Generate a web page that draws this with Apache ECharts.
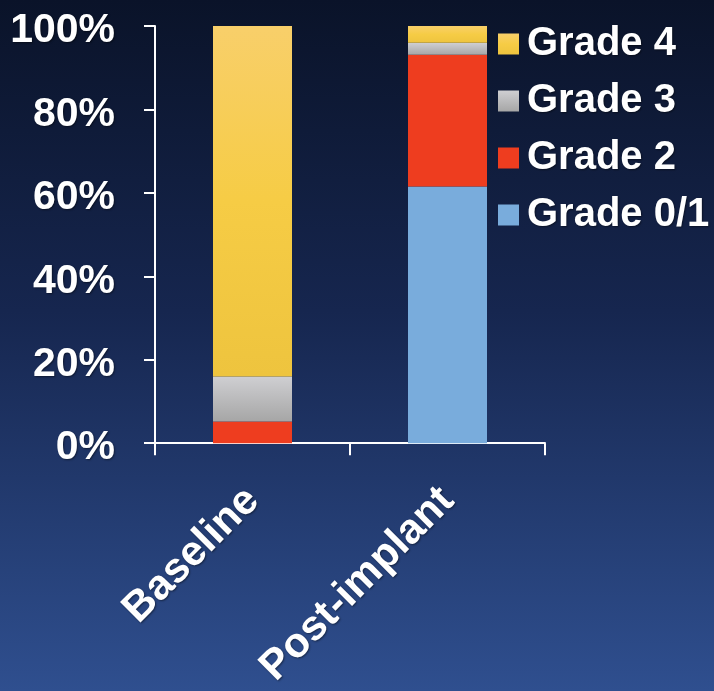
<!DOCTYPE html>
<html>
<head>
<meta charset="utf-8">
<style>
  html, body { margin: 0; padding: 0; background: #0c1631; }
  #chart { width: 714px; height: 691px; }
</style>
<script src="https://cdn.jsdelivr.net/npm/echarts@6/dist/echarts.min.js"></script>
</head>
<body>
<div id="chart"></div>
<script>
// Share of patients by grade, before and after implant (stacked to 100%)
const categories = ['Baseline', 'Post-implant'];
const grade01 = [0, 61.5];
const grade2 = [5.2, 31.6];
const grade3 = [10.8, 2.9];
const grade4 = [84, 4];
const yTicks = [0, 20, 40, 60, 80, 100];

const FONT = '"Liberation Sans", Arial, sans-serif';
const G = echarts.graphic.LinearGradient;
const shadow = { textShadowColor: 'rgba(0,0,0,0.45)', textShadowBlur: 2, textShadowOffsetX: 1, textShadowOffsetY: 1 };

const chart = echarts.init(document.getElementById('chart'), null, { renderer: 'canvas' });

function bar(name, data, color) {
  return {
    name: name,
    type: 'bar',
    stack: 'total',
    data: data,
    barWidth: 79,
    itemStyle: { color: color },
    emphasis: { disabled: true }
  };
}

chart.setOption({
  animation: false,
  backgroundColor: new G(0, 0, 0, 1, [
    { offset: 0, color: '#0a1329' },
    { offset: 0.45, color: '#16264f' },
    { offset: 1, color: '#2f4f8f' }
  ]),
  grid: { left: 155, right: 169, top: 26, bottom: 246, containLabel: false },
  legend: {
    orient: 'vertical',
    left: 493,
    top: 19,
    itemWidth: 21,
    itemHeight: 21,
    itemGap: 17,
    icon: 'rect',
    data: ['Grade 4', 'Grade 3', 'Grade 2', 'Grade 0/1'],
    textStyle: Object.assign({
      color: '#ffffff',
      fontFamily: FONT,
      fontWeight: 'bold',
      fontSize: 40,
      lineHeight: 40,
      padding: [0, 0, 0, 3]
    }, shadow)
  },
  xAxis: {
    type: 'category',
    data: categories,
    axisLine: { show: true, lineStyle: { color: '#ffffff', width: 2 } },
    axisTick: { show: true, alignWithLabel: false, length: 12, lineStyle: { color: '#ffffff', width: 2 } },
    axisLabel: Object.assign({
      rotate: 45,
      interval: 0,
      margin: 51,
      color: '#ffffff',
      fontFamily: FONT,
      fontWeight: 'bold',
      fontSize: 42
    }, shadow)
  },
  yAxis: {
    type: 'value',
    min: 0,
    max: 100,
    interval: 20,
    axisLine: { show: true, lineStyle: { color: '#ffffff', width: 2 } },
    axisTick: { show: true, length: 11, lineStyle: { color: '#ffffff', width: 2 } },
    splitLine: { show: false },
    axisLabel: {
      margin: 40,
      formatter: function (v) { return yTicks.indexOf(v) >= 0 ? '{v|' + v + '%}' : ''; },
      rich: {
        v: Object.assign({
          color: '#ffffff',
          fontFamily: FONT,
          fontWeight: 'bold',
          fontSize: 41,
          lineHeight: 41,
          padding: [10, 0, 0, 0]
        }, shadow)
      }
    }
  },
  series: [
    bar('Grade 0/1', grade01, '#79acdc'),
    bar('Grade 2', grade2, '#ee3d1f'),
    bar('Grade 3', grade3, new G(0, 0, 0, 1, [
      { offset: 0, color: '#cfcfd2' },
      { offset: 1, color: '#a6a6a6' }
    ])),
    bar('Grade 4', grade4, new G(0, 0, 0, 1, [
      { offset: 0, color: '#f8cf6a' },
      { offset: 0.5, color: '#f6cc45' },
      { offset: 1, color: '#eec43e' }
    ]))
  ]
});
</script>
</body>
</html>
